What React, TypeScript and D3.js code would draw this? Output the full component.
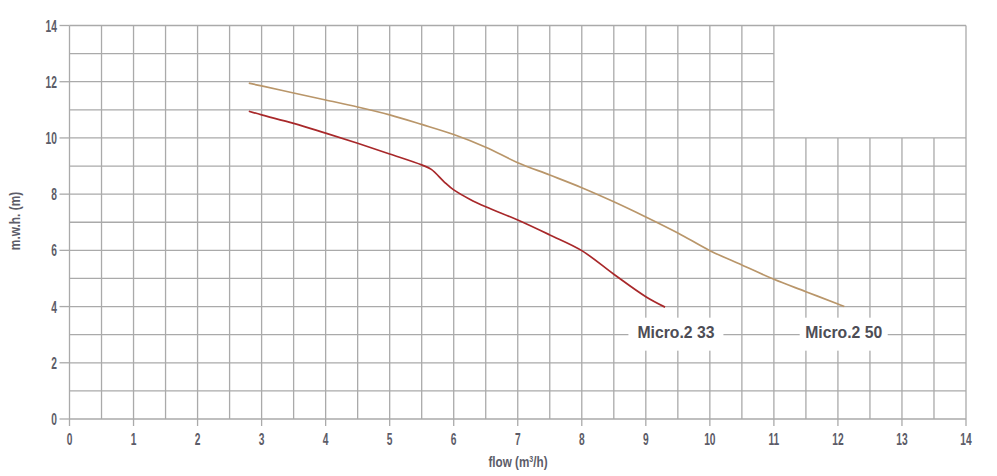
import React from "react";
import * as d3 from "d3";

const seriesNames = ["Micro.2 33", "Micro.2 50"];
const flow33 = [2.8, 3, 3.5, 4, 4.5, 5, 5.5, 5.65, 5.85, 6, 6.25, 6.5, 7, 7.5, 8, 8.5, 9, 9.3];
const head33 = [10.95, 10.82, 10.52, 10.17, 9.81, 9.43, 9.04, 8.88, 8.44, 8.15, 7.82, 7.55, 7.08, 6.55, 5.99, 5.15, 4.35, 3.98];
const flow50 = [2.8, 3, 3.5, 4, 4.5, 5, 5.5, 6, 6.5, 7, 7.5, 8, 8.5, 9, 9.5, 10, 10.5, 11, 11.5, 12, 12.1];
const head50 = [11.95, 11.85, 11.6, 11.35, 11.1, 10.82, 10.48, 10.12, 9.67, 9.12, 8.68, 8.23, 7.73, 7.19, 6.62, 5.99, 5.48, 4.97, 4.53, 4.09, 4.0];
const labelFlow = [9.47, 12.09];
const labelHead = [3, 3];
const xTicks = [0, 1, 2, 3, 4, 5, 6, 7, 8, 9, 10, 11, 12, 13, 14];
const yTicks = [0, 2, 4, 6, 8, 10, 12, 14];
const colors = ["#a8282a", "#b9966a"];

const W = 997;
const H = 476;
const FONT = "'Liberation Sans', Arial, sans-serif";

export default function App() {
  const x = d3.scaleLinear().domain([0, 14]).range([69.5, 966]);
  const y = d3.scaleLinear().domain([0, 14]).range([419, 25.5]);
  const gridColor = "#aaaaaa";

  const vLines: { x1: number; y1: number; x2: number; y2: number }[] = [];
  for (let v = 0; v <= 14; v += 0.5) {
    const top = v > 11 && v < 14 ? 10 : 14;
    vLines.push({ x1: x(v), y1: y(0), x2: x(v), y2: y(top) });
  }
  const hLines: { x1: number; y1: number; x2: number; y2: number }[] = [];
  for (let h = 0; h <= 14; h += 1) {
    const right = h > 10 && h < 14 ? 11 : 14;
    hLines.push({ x1: x(0), y1: y(h), x2: x(right), y2: y(h) });
  }

  const line = d3
    .line<[number, number]>()
    .x((d) => x(d[0]))
    .y((d) => y(d[1]))
    .curve(d3.curveCatmullRom.alpha(0.5));

  const data33: [number, number][] = flow33.map((f, i) => [f, head33[i]]);
  const data50: [number, number][] = flow50.map((f, i) => [f, head50[i]]);
  const series = [data33, data50];
  const sx = 0.62;

  return (
    <svg
      width={W}
      height={H}
      style={{ position: "absolute", left: 0, top: 0, background: "#fff" }}
    >
      <g>
        {vLines.map((l, i) => (
          <line key={"v" + i} {...l} stroke={gridColor} strokeWidth={1.3} />
        ))}
        {hLines.map((l, i) => (
          <line key={"h" + i} {...l} stroke={gridColor} strokeWidth={1.3} />
        ))}
        {xTicks.map((t) => (
          <line key={"xt" + t} x1={x(t)} x2={x(t)} y1={y(0)} y2={y(0) + 7} stroke={gridColor} strokeWidth={1.3} />
        ))}
        {yTicks.map((t) => (
          <line key={"yt" + t} x1={x(0) - 10} x2={x(0)} y1={y(t)} y2={y(t)} stroke={gridColor} strokeWidth={1.3} />
        ))}
      </g>
      <g fontFamily={FONT} fill="#5c5c68" fontSize={16.5} fontWeight="bold">
        {xTicks.map((t) => (
          <text key={"xl" + t} transform={`translate(${x(t)},445) scale(${sx},1)`} textAnchor="middle">
            {t}
          </text>
        ))}
        {yTicks.map((t) => (
          <text key={"yl" + t} transform={`translate(57,${y(t) + 6}) scale(${sx},1)`} textAnchor="end">
            {t}
          </text>
        ))}
      </g>
      <g>
        {series.map((d, i) => (
          <path key={"s" + i} d={line(d) || ""} fill="none" stroke={colors[i]} strokeWidth={1.7} />
        ))}
      </g>
      <g fontFamily={FONT} fontWeight="bold">
        {seriesNames.map((n, i) => {
          const cx = x(labelFlow[i]);
          const cy = y(labelHead[i]);
          const w = i === 0 ? 95 : 88;
          return (
            <g key={"lab" + i}>
              <rect x={cx - w / 2} y={cy - 17} width={w} height={33} fill="#fff" />
              <text x={cx} y={cy + 3} textAnchor="middle" fontSize={16.5} fill="#4d4d55" textLength={77} lengthAdjust="spacingAndGlyphs">
                {n}
              </text>
            </g>
          );
        })}
      </g>
      <text
        transform={`translate(518,467) scale(0.78,1)`}
        textAnchor="middle"
        fontFamily={FONT}
        fontWeight="bold"
        fontSize={15}
        fill="#5c5c68"
      >
        flow (m<tspan dy={-5} fontSize={9}>3</tspan>
        <tspan dy={5}>/h)</tspan>
      </text>
      <text
        transform="translate(20,221) rotate(-90) scale(0.85,1)"
        textAnchor="middle"
        fontFamily={FONT}
        fontWeight="bold"
        fontSize={14}
        fill="#5c5c68"
      >
        m.w.h. (m)
      </text>
    </svg>
  );
}
